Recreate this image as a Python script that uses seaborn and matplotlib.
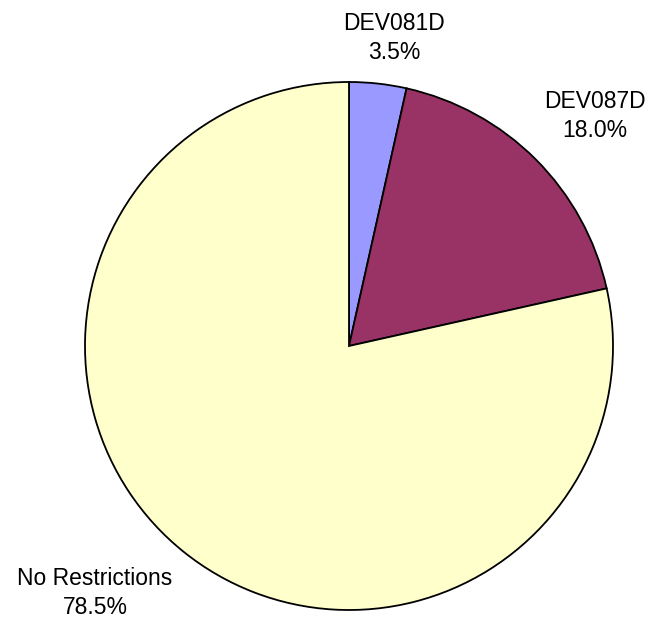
import matplotlib
matplotlib.use("Agg")
import matplotlib.pyplot as plt
import seaborn as sns

# data
labels = ["DEV081D", "DEV087D", "No Restrictions"]
shares = [3.5, 18.0, 78.5]
colors = ["#9999FF", "#993366", "#FFFFCC"]

# where Excel put each label, in units of the pie radius
label_pos = [(0.170, 1.167), (0.932, 0.871), (-0.962, -0.936)]

sns.set_theme(style="white")
plt.rcParams["font.family"] = ["Liberation Sans", "DejaVu Sans"]

fig = plt.figure(figsize=(6.51, 6.22), dpi=100)
cx, cy, r = 349, 346, 264
W, H = 651, 622
ax = fig.add_axes([(cx - r) / W, (H - cy - r) / H, 2 * r / W, 2 * r / H])

wedges, texts = ax.pie(
    shares,
    labels=[f"{l}\n{s:.1f}%" for l, s in zip(labels, shares)],
    colors=colors,
    startangle=90,
    counterclock=False,
    wedgeprops=dict(edgecolor="black", linewidth=1.3),
    textprops=dict(fontsize=16.5, color="black", linespacing=1.35),
)
for t, (x, y) in zip(texts, label_pos):
    t.set_position((x, y))
    t.set_ha("center")
    t.set_va("center")
    t.set_multialignment("center")
    t.set_clip_on(False)

ax.set_xlim(-1, 1)
ax.set_ylim(-1, 1)
ax.set_aspect("equal")
ax.axis("off")

fig.savefig("out.png", dpi=100)
